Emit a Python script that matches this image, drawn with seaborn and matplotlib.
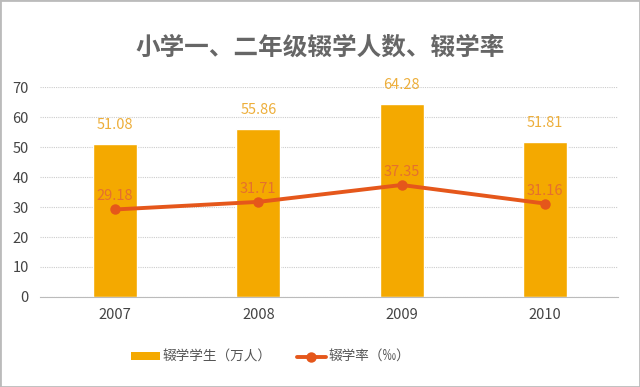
import matplotlib
matplotlib.use("Agg")
import matplotlib.pyplot as plt
import seaborn as sns
import pandas as pd
from matplotlib.lines import Line2D
from matplotlib.patches import Patch, Rectangle

years = ["2007", "2008", "2009", "2010"]
students = [51.08, 55.86, 64.28, 51.81]
rate = [29.18, 31.71, 37.35, 31.16]
yticks = [0, 10, 20, 30, 40, 50, 60, 70]

sns.set_theme(style="white")
plt.rcParams['font.family'] = ['Noto Sans CJK SC', 'DejaVu Sans']

bar_color = "#F4A900"
line_color = "#E5571B"

df = pd.DataFrame({"year": years, "students": students, "rate": rate})

fig = plt.figure(figsize=(6.4, 3.87), dpi=100)
ax = fig.add_axes([0.0625, 0.2326, 0.903, 0.5424])

sns.barplot(data=df, x="year", y="students", color=bar_color, width=0.307,
            saturation=1, ax=ax)
sns.lineplot(x=list(range(len(years))), y=rate, color=line_color, lw=2.8,
             marker="o", markersize=7.5, markeredgewidth=0, ax=ax)

for i, v in enumerate(students):
    ax.text(i, v + 4, f"{v:.2f}", ha="center", va="bottom", color="#EDAE3A", fontsize=10.5)
for i, v in enumerate(rate):
    ax.text(i, v + 2, f"{v:.2f}", ha="center", va="bottom", color="#E5702E", fontsize=10.5)

ax.set_ylim(0, 70)
ax.set_xlim(-0.523, 3.509)
ax.set_yticks(yticks)
ax.set_yticklabels([str(t) for t in yticks], color="#444444", fontsize=10.5)
ax.tick_params(axis="x", colors="#444444", labelsize=10.5, length=0, pad=8)
ax.tick_params(axis="y", length=0, pad=8)
ax.set_xlabel("")
ax.set_ylabel("")
ax.grid(axis="y", color="#CCCCCC", linestyle=(0, (1, 1)), lw=0.8)
ax.set_axisbelow(True)
for s in ["top", "right", "left"]:
    ax.spines[s].set_visible(False)
ax.spines["bottom"].set_color("#BBBBBB")
ax.spines["bottom"].set_linewidth(0.8)

fig.text(0.5, 0.876, "小学一、二年级辍学人数、辍学率", ha="center", va="center",
         fontsize=17.7, color="#666666", fontweight="bold")

handles = [Patch(facecolor=bar_color, edgecolor="none"),
           Line2D([0], [0], color=line_color, lw=2.8, marker="o", markersize=7.5, markeredgewidth=0)]
fig.legend(handles, ["辍学学生（万人）", "辍学率（‰）"], loc="center left",
           bbox_to_anchor=(131 / 640, 0.0775), borderpad=0, borderaxespad=0,
           ncol=2, frameon=False, fontsize=9.8, labelcolor="#555555", handlelength=2.1,
           handleheight=0.55, columnspacing=1.9, handletextpad=0.2)

fig.patches.append(Rectangle((0, 0), 1, 1, transform=fig.transFigure, fill=False,
                             edgecolor="#BBBBBB", lw=2))

fig.savefig("out.png", dpi=100)
